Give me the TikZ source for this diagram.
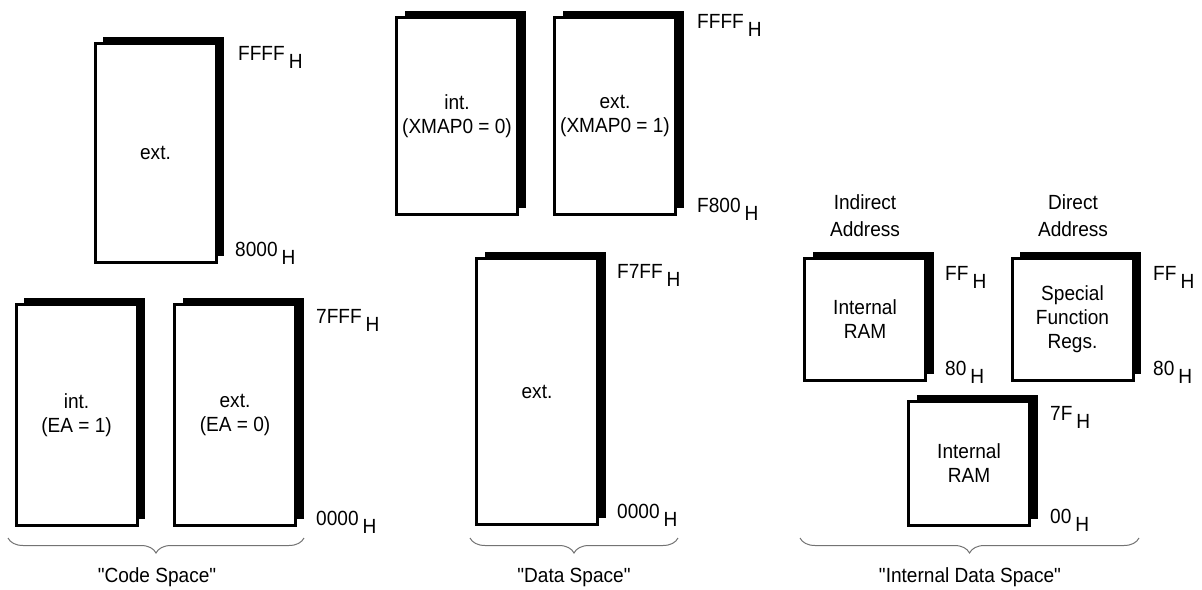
\documentclass[tikz,border=0pt]{standalone}
\usepackage{fontspec}
\setmainfont{Liberation Sans}[FakeStretch=0.93]
\newfontfamily\capfont{Liberation Sans}[FakeStretch=0.93,Ligatures=TeXOff]
\usetikzlibrary{positioning,shadows,decorations.pathreplacing}
\definecolor{BraceClr}{rgb}{0.45,0.45,0.45}

\newcommand{\hexaddr}[1]{#1\hspace{4pt}\raisebox{-8pt}{H}}

\begin{document}
\begin{tikzpicture}[x=1pt,y=-1pt,
  font=\fontsize{20.5}{24}\selectfont,
  mem/.style={draw,line width=3pt,fill=white,align=center,inner sep=0pt,
    minimum width=121pt,
    drop shadow={shadow xshift=8pt,shadow yshift=7pt,fill=black,opacity=1}},
  addr/.style={anchor=base west,inner sep=0pt},
  spacebrace/.style={decorate,decoration={brace,mirror,amplitude=15pt},
    draw=BraceClr,line width=1pt},
  head/.style={align=center,font=\fontsize{20.5}{27}\selectfont},
  caption/.style={font=\capfont\fontsize{20.5}{24}\selectfont}]
\useasboundingbox (0,0) rectangle (1202,589);

% code space
\node[mem,minimum height=219pt] (codeExt) at (155.5,153) {ext.};
\node[mem,minimum height=221pt] (codeInt) at (76.5,415) {int.\\(EA = 1)};
\node[mem,minimum height=221pt] (codeExtEA) at (235,415) {ext.\\(EA = 0)};

\node[addr] (codeTopHi) at (238,60) {\hexaddr{FFFF}};
\node[addr] (codeTopLo) at (235,256) {\hexaddr{8000}};
\node[addr] (codeHi) at (316,323) {\hexaddr{7FFF}};
\node[addr] (codeLo) at (316,525) {\hexaddr{0000}};

% data space
\node[mem,minimum height=197pt] (dataInt) at (457,116) {int.\\(XMAP0 = 0)};
\node[mem,minimum height=197pt] (dataExtX) at (615,116) {ext.\\(XMAP0 = 1)};
\node[mem,minimum height=266pt] (dataExt) at (537,391.5) {ext.};

\node[addr] (dataTopHi) at (697,28) {\hexaddr{FFFF}};
\node[addr] (dataTopLo) at (697,212) {\hexaddr{F800}};
\node[addr] (dataHi) at (617,278) {\hexaddr{F7FF}};
\node[addr] (dataLo) at (617,518) {\hexaddr{0000}};

% internal data space
\node[head] (indHead) at (865,216) {Indirect\\Address};
\node[head] (dirHead) at (1073,216) {Direct\\Address};

\node[mem,minimum height=122pt] (ramHi) at (865,319.5) {Internal\\RAM};
\node[mem,minimum height=122pt] (sfr) at (1072.5,319.5) {Special\\Function\\Regs.};
\node[mem,minimum height=124pt] (ramLo) at (969,463.5) {Internal\\RAM};

\node[addr] (ramHiTop) at (945,280) {\hexaddr{FF}};
\node[addr] (ramHiBot) at (945,375) {\hexaddr{80}};
\node[addr] (sfrTop) at (1153,280) {\hexaddr{FF}};
\node[addr] (sfrBot) at (1153,375) {\hexaddr{80}};
\node[addr] (ramLoTop) at (1050,420) {\hexaddr{7F}};
\node[addr] (ramLoBot) at (1050,523) {\hexaddr{00}};

% braces and captions
\coordinate (codeL) at (8,538);
\coordinate (codeR) at (304,538);
\coordinate (dataL) at (470,538);
\coordinate (dataR) at (678,538);
\coordinate (idataL) at (800,538);
\coordinate (idataR) at (1139,538);

\draw[spacebrace] (codeL) -- (codeR);
\draw[spacebrace] (dataL) -- (dataR);
\draw[spacebrace] (idataL) -- (idataR);

\node[caption] (codeCap) at (157,577) {"Code Space"};
\node[caption] (dataCap) at (574,577) {"Data Space"};
\node[caption] (idataCap) at (970,577) {"Internal Data Space"};

\end{tikzpicture}
\end{document}
